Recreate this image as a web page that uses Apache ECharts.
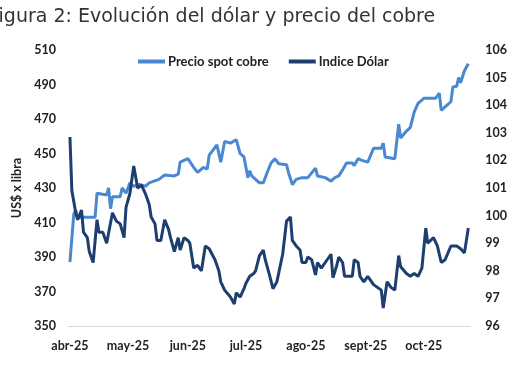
<!DOCTYPE html>
<html>
<head>
<meta charset="utf-8">
<script src="https://cdn.jsdelivr.net/npm/echarts@6/dist/echarts.min.js"></script>
<style>
html,body{margin:0;padding:0;background:#fff;}
#c{width:510px;height:382px;}
</style>
</head>
<body>
<div id="c"></div>
<script>
var titleText = 'Figura 2: Evolución del dólar y precio del cobre';
var seriesNames = ['Precio spot cobre', 'Indice Dólar'];
var monthLabels = ['abr-25','may-25','jun-25','jul-25','ago-25','sept-25','oct-25'];
var yLeftName = 'US$ x libra';

var copperDates = ['04-01','04-03','04-04','04-05','04-14','04-15','04-20','04-21','04-22','04-23','04-27','04-28','04-30',
'05-02','05-04','05-07','05-10','05-12','05-17','05-20','05-25','05-27','05-28',
'06-01','06-02','06-04','06-06','06-07','06-09','06-11','06-12','06-14','06-16','06-18','06-20','06-23','06-26','06-28','06-30',
'07-02','07-03','07-04','07-06','07-08','07-10','07-12','07-14','07-16','07-18','07-22','07-23','07-25','07-27','07-28','07-30',
'08-02','08-06','08-07','08-11','08-14','08-16','08-18','08-20','08-22','08-25','08-26','08-28','08-30',
'09-02','09-05','09-09','09-10','09-11','09-16','09-18','09-19','09-22','09-24','09-26','09-28',
'10-01','10-07','10-09','10-10','10-12','10-15','10-16','10-18','10-19','10-20','10-22','10-24'];
var copperValues = [387,415,417,413,413,427,426,430,418,425,425,430,427,
433,431,432,431,433,435,437.5,437,438,445,
447,446,442,439,440,442,441,449,452,455,445,457,456,458,450,448,
436,440,437,435,433,433,439,444.5,447,444,443.5,439,432,435,434,436,
436,441.5,437,436,434,436,437,440.5,444.5,444.5,443,447,446,
445,453,453,456,448,447,467,459,463,465,474,479,
482,482,485,475,477,480,488.5,489,494,491,498,502];

var dollarDates = ['04-01','04-02','04-04','04-05','04-07','04-08','04-10','04-11','04-13','04-15','04-16','04-18','04-20','04-23','04-25','04-27','04-29','04-30',
'05-02','05-04','05-06','05-08','05-10','05-12','05-13','05-15','05-16','05-18','05-20','05-22','05-23','05-25','05-27','05-28','05-30',
'06-01','06-02','06-04','06-06','06-08','06-10','06-12','06-15','06-17','06-18','06-20','06-21','06-23','06-25','06-26','06-28','06-30',
'07-01','07-03','07-05','07-06','07-08','07-10','07-11','07-13','07-15','07-17','07-20','07-22','07-24','07-25','07-27','07-29','07-30',
'08-01','08-02','08-04','08-06','08-07','08-09','08-12','08-14','08-15','08-17','08-18','08-20','08-21','08-25','08-26','08-28','08-29','08-31',
'09-02','09-04','09-05','09-09','09-10','09-12','09-14','09-16','09-18','09-19','09-22','09-24','09-26','09-28','09-30',
'10-02','10-03','10-06','10-08','10-10','10-12','10-15','10-18','10-20','10-22','10-24'];
var dollarValues = [102.85,100.9,100.1,99.85,100.2,99.4,99.2,98.7,98.3,99.85,99.4,99.4,99.0,100.1,99.8,99.7,99.2,100.3,
100.8,101.8,101.0,101.1,100.8,100.4,99.95,99.7,99.1,99.1,99.85,99.5,99.2,98.7,99.2,98.75,99.2,
99.1,99.0,98.1,98.2,98.0,98.9,98.8,98.4,98.0,97.6,97.3,97.35,97.05,96.8,97.2,97.05,97.35,
97.55,97.8,97.9,98.0,98.55,98.75,98.4,97.9,97.35,97.6,98.6,99.8,99.95,99.1,98.9,98.75,98.3,
98.3,98.5,98.4,97.85,98.3,98.1,98.4,98.6,97.75,98.2,98.5,98.3,97.8,97.8,98.4,98.3,97.8,97.6,
97.8,97.6,97.5,97.3,96.65,97.6,97.4,97.3,98.55,98.15,97.9,97.8,97.9,97.8,98.1,
99.55,99.0,99.2,98.9,98.3,98.4,98.9,98.9,98.8,98.65,99.55];

var year = 2025;
function ts(md){ var p = md.split('-'); return new Date(year, +p[0] - 1, +p[1]).getTime(); }
function pairs(dates, vals){ return dates.map(function(d,i){ return [ts(d), vals[i]]; }); }
var monthTicks = monthLabels.map(function(_, i){ return new Date(year, 3 + i, 1).getTime(); });

var lblFont = 'Lato';
var chart = echarts.init(document.getElementById('c'));
chart.setOption({
  animation: false,
  title: {
    text: titleText, left: -16, top: 3,
    textStyle: { fontFamily: 'DejaVu Sans', fontSize: 19, fontWeight: 'normal', color: '#333' }
  },
  legend: {
    top: 50, left: 133, itemGap: 20, itemWidth: 27, itemHeight: 4, icon: 'rect',
    textStyle: { fontFamily: lblFont, fontWeight: 'bold', fontSize: 13, color: '#222', padding: [0, 0, 0, -2] },
    data: seriesNames
  },
  grid: { left: 68, right: 33, top: 50, bottom: 56 },
  xAxis: {
    type: 'value',
    min: ts('03-31'), max: ts('10-25'),
    axisLine: { show: true, onZero: false, lineStyle: { color: '#d9d9d9', width: 1 } },
    axisTick: { show: false },
    splitLine: { show: false },
    axisLabel: {
      customValues: monthTicks,
      margin: 13,
      fontFamily: lblFont, fontWeight: 'bold', fontSize: 12.5, color: '#222',
      formatter: function (v) {
        var d = new Date(v);
        return monthLabels[d.getMonth() - 3];
      }
    }
  },
  yAxis: [{
    type: 'value', min: 350, max: 510, interval: 20,
    name: yLeftName, nameLocation: 'middle', nameGap: 38, nameRotate: 90,
    nameTextStyle: { fontFamily: lblFont, fontWeight: 'bold', fontSize: 12.5, color: '#222' },
    axisLine: { show: false }, axisTick: { show: false }, splitLine: { show: false },
    axisLabel: { margin: 12, fontFamily: lblFont, fontWeight: 'bold', fontSize: 12.5, color: '#222' }
  }, {
    type: 'value', min: 96, max: 106, interval: 1, position: 'right',
    axisLine: { show: false }, axisTick: { show: false }, splitLine: { show: false },
    axisLabel: { margin: 15, fontFamily: lblFont, fontWeight: 'bold', fontSize: 12.5, color: '#222' }
  }],
  series: [{
    name: seriesNames[0], type: 'line', yAxisIndex: 0, symbol: 'none',
    color: '#4a88d2', lineStyle: { width: 3, color: '#4a88d2' },
    data: pairs(copperDates, copperValues)
  }, {
    name: seriesNames[1], type: 'line', yAxisIndex: 1, symbol: 'none',
    color: '#1d3f70', lineStyle: { width: 3, color: '#1d3f70' },
    data: pairs(dollarDates, dollarValues)
  }]
});
</script>
</body>
</html>
